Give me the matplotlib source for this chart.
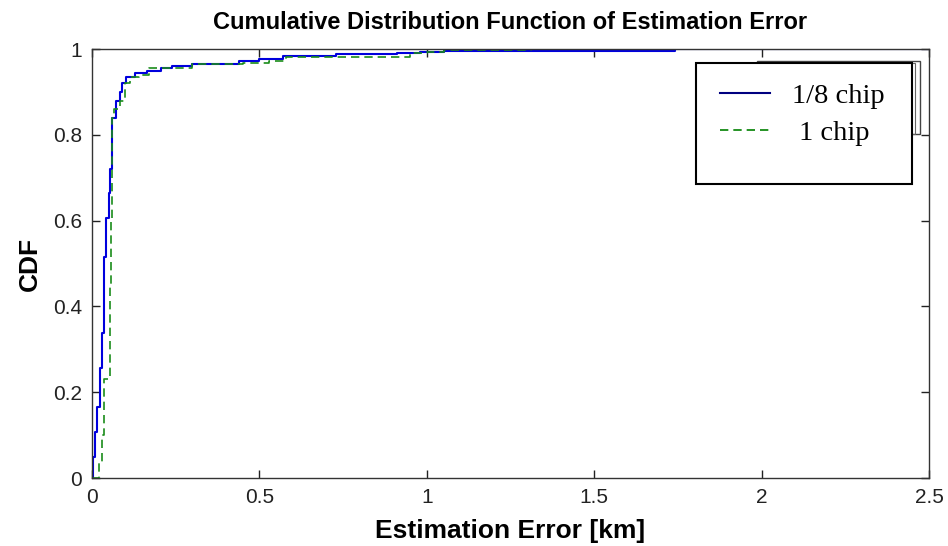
import matplotlib
matplotlib.use("Agg")
import matplotlib.pyplot as plt
from matplotlib.patches import Rectangle

# step points: at each x the CDF jumps to y
err_eighth = [0.0, 0.003, 0.010, 0.016, 0.023, 0.030, 0.036, 0.043, 0.050, 0.054,
              0.060, 0.073, 0.083, 0.090, 0.102, 0.130, 0.165, 0.205, 0.24, 0.30,
              0.44, 0.50, 0.57, 0.73, 0.91, 0.98, 1.05, 1.74, 2.5]
cdf_eighth = [0.0, 0.05, 0.107, 0.166, 0.256, 0.338, 0.515, 0.606, 0.664, 0.72,
              0.84, 0.88, 0.90, 0.92, 0.935, 0.945, 0.95, 0.955, 0.96, 0.965,
              0.972, 0.978, 0.984, 0.988, 0.991, 0.993, 0.996, 1.0, 1.0]

err_one = [0.0, 0.021, 0.030, 0.036, 0.055, 0.057, 0.059, 0.061, 0.066, 0.085,
           0.100, 0.115, 0.14, 0.17, 0.30, 0.45, 0.53, 0.58, 0.95, 1.0, 1.05,
           1.31, 2.5]
cdf_one = [0.0, 0.035, 0.10, 0.23, 0.45, 0.60, 0.72, 0.84, 0.86, 0.88,
           0.92, 0.935, 0.94, 0.955, 0.965, 0.968, 0.973, 0.982, 0.991, 0.994,
           0.997, 1.0, 1.0]

labels = ["1/8 chip", " 1 chip"]
x_ticks = [0, 0.5, 1, 1.5, 2, 2.5]
y_ticks = [0, 0.2, 0.4, 0.6, 0.8, 1]

plt.rcParams["font.family"] = ["Liberation Sans", "DejaVu Sans"]

fig = plt.figure(figsize=(9.48, 5.46), dpi=100)
ax = fig.add_axes([0.097, 0.1245, 0.883, 0.7855])

l1, = ax.step(err_eighth, cdf_eighth, where="post", color="#0000dd", lw=1.5)
l2, = ax.step(err_one, cdf_one, where="post", color="#1a8c1a", lw=1.2,
              linestyle=(0, (5, 3)))

ax.set_xlim(0, 2.5)
ax.set_ylim(0, 1)
ax.set_xticks(x_ticks)
ax.set_xticklabels([f"{t:g}" for t in x_ticks])
ax.set_yticks(y_ticks)
ax.set_yticklabels([f"{t:g}" for t in y_ticks])
ax.tick_params(direction="in", length=6, width=1, top=True, right=True,
               labelsize=15, pad=7, colors="#222222", labelcolor="#222222")
for s in ax.spines.values():
    s.set_linewidth(1.0)
    s.set_color("#333333")

ax.set_title("Cumulative Distribution Function of Estimation Error",
             fontsize=17, fontweight="bold", y=1.0466, pad=0)
ax.set_xlabel("Estimation Error [km]", fontsize=19, fontweight="bold")
ax.xaxis.label.set_va("baseline")
ax.xaxis.set_label_coords(0.5, -0.140)
ax.set_ylabel("CDF", fontsize=19, fontweight="bold")
ax.yaxis.set_label_coords(-0.060, 0.5)

# old legend outline left behind the pasted one
ax.add_patch(Rectangle((0.7945, 0.802), 0.1945, 0.170, transform=ax.transAxes,
                       fill=False, ec="#444444", lw=1.0, clip_on=False, zorder=3))
ax.add_patch(Rectangle((0.7945, 0.802), 0.1885, 0.165, transform=ax.transAxes,
                       fill=False, ec="#666666", lw=0.8, clip_on=False, zorder=3))

# legend box
ax.add_patch(Rectangle((0.7216, 0.685), 0.2584, 0.282, transform=ax.transAxes,
                       fc="white", ec="black", lw=1.5, clip_on=False, zorder=4))
leg = ax.legend([l1, l2], labels, loc="upper left", bbox_to_anchor=(0.750, 0.922),
                frameon=False, prop={"family": "Liberation Serif", "size": 20.5},
                handlelength=1.75, handletextpad=0.8, labelspacing=0.4,
                borderaxespad=0, borderpad=0)
leg.set_zorder(5)
leg.get_lines()[0].set_color("#000080")
leg.get_lines()[1].set_color("#008000")

fig.savefig("out.png", dpi=100)
